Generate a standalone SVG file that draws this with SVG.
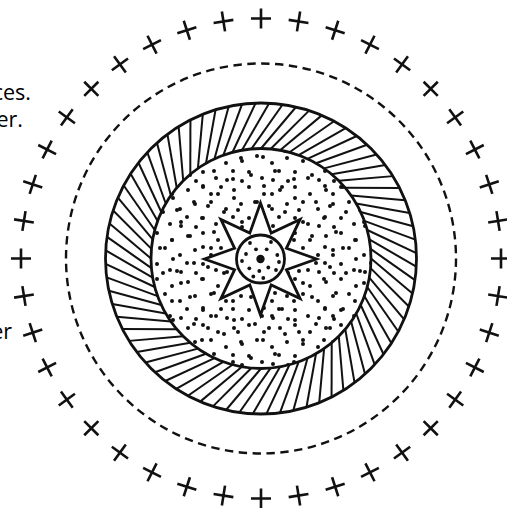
<svg xmlns="http://www.w3.org/2000/svg" width="507" height="508" viewBox="0 0 507 508">
<style>
.lbl{font-family:"Open Sans","Liberation Sans",sans-serif;font-size:21.5px;fill:#000;text-anchor:end}
.ring{fill:none;stroke:#111;stroke-width:2.8}
.dot{fill:#111}
</style>
<defs>
<pattern id="dA" patternUnits="userSpaceOnUse" width="46" height="46">
<g class="dot">
<circle cx="4" cy="6" r="2"/><circle cx="19" cy="3" r="2"/><circle cx="34" cy="10" r="2"/>
<circle cx="11" cy="20" r="2"/><circle cx="27" cy="18" r="2"/><circle cx="42" cy="25" r="2"/>
<circle cx="3" cy="33" r="2"/><circle cx="19" cy="34" r="2"/><circle cx="32" cy="40" r="2"/>
<circle cx="43" cy="42" r="2"/><circle cx="12" cy="43" r="2"/>
</g>
</pattern>
<pattern id="dB" patternUnits="userSpaceOnUse" x="3" y="7" width="61" height="61">
<g class="dot">
<circle cx="8" cy="12" r="2"/><circle cx="25" cy="4" r="2"/><circle cx="48" cy="8" r="2"/>
<circle cx="38" cy="22" r="2"/><circle cx="16" cy="28" r="2"/><circle cx="56" cy="32" r="2"/>
<circle cx="4" cy="46" r="2"/><circle cx="28" cy="42" r="2"/><circle cx="47" cy="50" r="2"/>
<circle cx="17" cy="57" r="2"/><circle cx="35" cy="58" r="2"/><circle cx="52" cy="20" r="2"/>
<circle cx="22" cy="16" r="2"/>
</g>
</pattern>
<path id="x1" d="M251 18.5H271M261 8.5V28.5" stroke="#111" stroke-width="2.6" fill="none"/>
<g id="x8">
<use href="#x1"/>
<use href="#x1" transform="rotate(9 261 258.5)"/>
<use href="#x1" transform="rotate(18 261 258.5)"/>
<use href="#x1" transform="rotate(27 261 258.5)"/>
<use href="#x1" transform="rotate(36 261 258.5)"/>
<use href="#x1" transform="rotate(45 261 258.5)"/>
<use href="#x1" transform="rotate(54 261 258.5)"/>
<use href="#x1" transform="rotate(63 261 258.5)"/>
</g>
<line id="h1" x1="371" y1="258.5" x2="412.5" y2="293.5" stroke="#111" stroke-width="2"/>
<g id="h9">
<use href="#h1"/>
<use href="#h1" transform="rotate(5 261 258.5)"/>
<use href="#h1" transform="rotate(10 261 258.5)"/>
<use href="#h1" transform="rotate(15 261 258.5)"/>
<use href="#h1" transform="rotate(20 261 258.5)"/>
<use href="#h1" transform="rotate(25 261 258.5)"/>
<use href="#h1" transform="rotate(30 261 258.5)"/>
<use href="#h1" transform="rotate(35 261 258.5)"/>
<use href="#h1" transform="rotate(40 261 258.5)"/>
</g>
</defs>
<rect width="507" height="508" fill="#fff"/>

<g id="labels">
<text class="lbl" x="31" y="100">ces.</text>
<text class="lbl" x="23" y="127">er.</text>
<text class="lbl" x="12" y="339">er</text>
</g>

<g id="crosses">
<use href="#x8"/>
<use href="#x8" transform="rotate(72 261 258.5)"/>
<use href="#x8" transform="rotate(144 261 258.5)"/>
<use href="#x8" transform="rotate(216 261 258.5)"/>
<use href="#x8" transform="rotate(288 261 258.5)"/>
</g>

<g id="dashed-ring">
<circle cx="261" cy="258.5" r="195" fill="none" stroke="#111" stroke-width="2.4" stroke-dasharray="8.4 5.52"/>
</g>

<g id="stipple-disc">
<circle cx="261" cy="258.5" r="110" fill="url(#dA)"/>
<circle cx="261" cy="258.5" r="110" fill="url(#dB)"/>
</g>

<g id="hatched-ring">
<use href="#h9"/>
<use href="#h9" transform="rotate(45 261 258.5)"/>
<use href="#h9" transform="rotate(90 261 258.5)"/>
<use href="#h9" transform="rotate(135 261 258.5)"/>
<use href="#h9" transform="rotate(180 261 258.5)"/>
<use href="#h9" transform="rotate(225 261 258.5)"/>
<use href="#h9" transform="rotate(270 261 258.5)"/>
<use href="#h9" transform="rotate(315 261 258.5)"/>
<circle class="ring" cx="261" cy="258.5" r="110"/>
<circle class="ring" cx="261" cy="258.5" r="155.5"/>
</g>

<g id="star">
<polygon points="260.5,203 271.2,233.1 300.1,219.4 286.4,248.3 316.5,259 286.4,269.7 300.1,298.6 271.2,284.9 260.5,315 249.8,284.9 220.9,298.6 234.6,269.7 204.5,259 234.6,248.3 220.9,219.4 249.8,233.1" fill="#fff" stroke="#111" stroke-width="2.8" stroke-linejoin="miter"/>
</g>

<g id="core">
<circle cx="260.5" cy="259" r="24" fill="#fff" stroke="#111" stroke-width="2.8"/>
<g class="dot">
<circle cx="256" cy="249.3" r="1.9"/><circle cx="266.7" cy="249.3" r="1.9"/><circle cx="246" cy="254" r="1.9"/>
<circle cx="277.3" cy="255" r="1.9"/><circle cx="242" cy="261" r="1.9"/><circle cx="279" cy="262" r="1.9"/>
<circle cx="249.3" cy="268.3" r="1.9"/><circle cx="259.3" cy="271" r="1.9"/><circle cx="268.3" cy="267.5" r="1.9"/>
<circle cx="276" cy="270" r="1.9"/><circle cx="263.3" cy="278" r="1.9"/><circle cx="253.3" cy="276.5" r="1.9"/>
<circle cx="250" cy="243" r="1.9"/><circle cx="271" cy="242" r="1.9"/>
<circle cx="260.5" cy="259" r="4.2"/>
</g>
</g>
</svg>
